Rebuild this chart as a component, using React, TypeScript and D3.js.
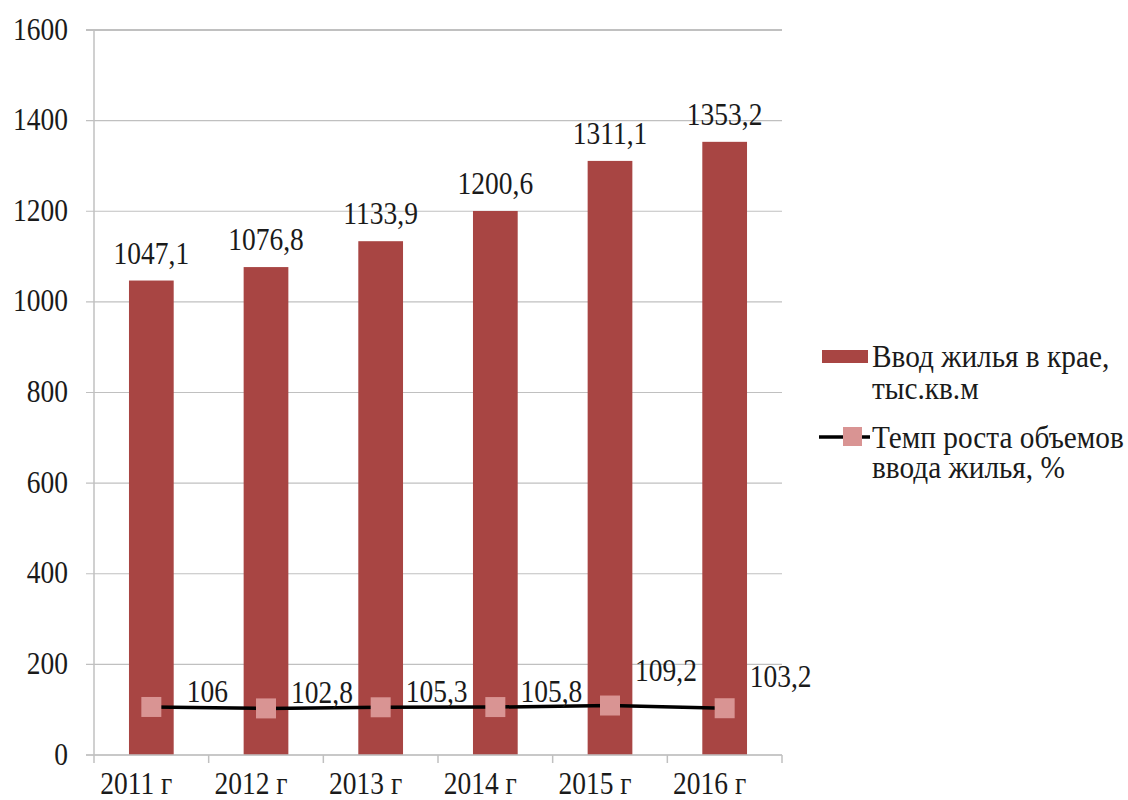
import React from 'react';
import * as d3 from 'd3';

const years = ['2011 г', '2012 г', '2013 г', '2014 г', '2015 г', '2016 г'];
const housing = [1047.1, 1076.8, 1133.9, 1200.6, 1311.1, 1353.2];
const growth = [106, 102.8, 105.3, 105.8, 109.2, 103.2];
const yTicks = [0, 200, 400, 600, 800, 1000, 1200, 1400, 1600];
const legendBar = ['Ввод жилья в крае,', 'тыс.кв.м'];
const legendLine = ['Темп роста объемов', 'ввода жилья, %'];
// small per-label vertical nudges for the growth labels (layout only)
const growthLabelNudge = [0, 0, 0, 0, -20, -16];

const W = 1128;
const H = 800;
const M = { left: 94, right: 782, top: 30, bottom: 755 };
const BAR = '#A84543';
const MARK = '#D99493';
const GRID = '#C0C0C0';
const fmt = (v: number) => String(v).replace('.', ',');

function T(props: { x: number; y: number; anchor?: string; middle?: boolean; fs?: number; sy?: number; children: React.ReactNode }) {
  const { x, y, anchor = 'start', middle = false, fs = 27.5, sy = 1.12, children } = props;
  return (
    <text
      transform={`translate(${x},${y}) scale(1,${sy})`}
      textAnchor={anchor}
      dominantBaseline={middle ? 'central' : 'auto'}
      fill="#1a1a1a"
      style={{ fontFamily: 'Liberation Serif', fontSize: `${fs}px` }}
    >
      {children}
    </text>
  );
}

export default function App() {
  const x = d3.scaleBand<string>().domain(years).range([M.left, M.right]).paddingInner(0.61).paddingOuter(0.305);
  const band = d3.scaleBand<string>().domain(years).range([M.left, M.right]);
  const y = d3.scaleLinear().domain([0, 1600]).range([M.bottom, M.top]);
  const cx = (d: string) => band(d)! + band.bandwidth() / 2;
  const line = d3
    .line<number>()
    .x((_, i) => cx(years[i]))
    .y((d) => y(d));

  return (
    <svg width={W} height={H} style={{ position: 'absolute', left: 0, top: 0, background: '#fff' }}>
      {/* grid */}
      {yTicks.map((t) => (
        <g key={t}>
          <line x1={M.left - 8} x2={M.right} y1={y(t)} y2={y(t)} stroke={GRID} strokeWidth={t === 1600 ? 2 : 1.2} />
          <T x={68} y={y(t) - 1} anchor="end" middle>
            {t}
          </T>
        </g>
      ))}
      {/* y axis */}
      <line x1={M.left} x2={M.left} y1={M.top} y2={M.bottom} stroke={GRID} strokeWidth={1.5} />
      {/* x axis ticks */}
      {[...years.map((d) => band(d)!), M.right].map((t, i) => (
        <line key={i} x1={t} x2={t} y1={M.bottom} y2={M.bottom + 8} stroke={GRID} strokeWidth={1.5} />
      ))}
      {/* bars */}
      {housing.map((v, i) => (
        <g key={i}>
          <rect x={x(years[i])} y={y(v)} width={x.bandwidth()} height={y(0) - y(v)} fill={BAR} />
          <T x={cx(years[i])} y={y(v) - 17} anchor="middle">
            {fmt(v)}
          </T>
        </g>
      ))}
      <line x1={M.left - 8} x2={M.right} y1={M.bottom} y2={M.bottom} stroke={GRID} strokeWidth={1.5} />
      {/* x labels */}
      {years.map((d) => (
        <T key={d} x={cx(d) - 15} y={794} anchor="middle">
          {d}
        </T>
      ))}
      {/* growth line */}
      <path d={line(growth) || ''} fill="none" stroke="#000" strokeWidth={3.5} />
      {growth.map((v, i) => (
        <g key={i}>
          <rect x={cx(years[i]) - 10} y={y(v) - 10} width={20} height={20} fill={MARK} />
          <T x={cx(years[i]) + 56} y={y(v) - 5 + growthLabelNudge[i]} anchor="middle">
            {fmt(v)}
          </T>
        </g>
      ))}
      {/* legend */}
      <rect x={822} y={350} width={46} height={13} fill={BAR} />
      {legendBar.map((t, i) => (
        <T key={t} x={872} y={367 + i * 32} fs={29.3} sy={1.05}>
          {t}
        </T>
      ))}
      <line x1={819} x2={870} y1={437} y2={437} stroke="#000" strokeWidth={3.5} />
      <rect x={843} y={427} width={19} height={19} fill={MARK} />
      {legendLine.map((t, i) => (
        <T key={t} x={872} y={448 + i * 30} fs={29.3} sy={1.05}>
          {t}
        </T>
      ))}
    </svg>
  );
}
